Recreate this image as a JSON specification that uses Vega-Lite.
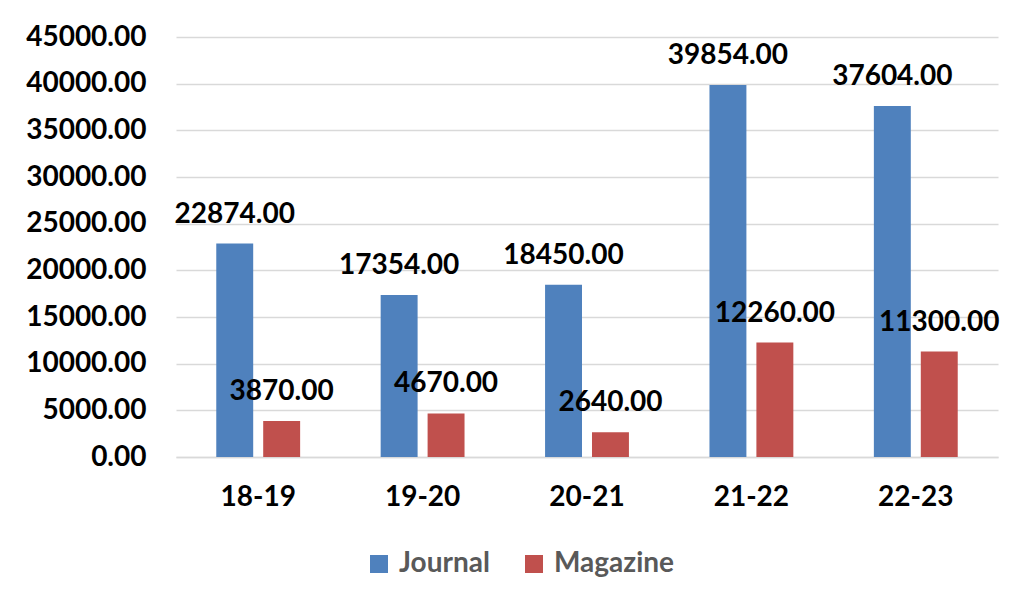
{
  "$schema": "https://vega.github.io/schema/vega-lite/v6.json",
  "autosize": "none",
  "width": 822,
  "height": 420,
  "padding": {"left": 176, "top": 37, "right": 17, "bottom": 143},
  "background": "white",
  "config": {
    "view": {"stroke": null},
    "font": "Lato",
    "axis": {"labelFont": "Lato", "labelFontWeight": "bold", "labelFontSize": 28, "labelColor": "#000000"}
  },
  "data": {
    "values": [
      {"year": "18-19", "type": "Journal", "value": 22874},
      {"year": "18-19", "type": "Magazine", "value": 3870},
      {"year": "19-20", "type": "Journal", "value": 17354},
      {"year": "19-20", "type": "Magazine", "value": 4670},
      {"year": "20-21", "type": "Journal", "value": 18450},
      {"year": "20-21", "type": "Magazine", "value": 2640},
      {"year": "21-22", "type": "Journal", "value": 39854},
      {"year": "21-22", "type": "Magazine", "value": 12260},
      {"year": "22-23", "type": "Journal", "value": 37604},
      {"year": "22-23", "type": "Magazine", "value": 11300}
    ]
  },
  "encoding": {
    "x": {
      "field": "year", "type": "nominal", "sort": null,
      "scale": {"paddingInner": 0, "paddingOuter": 0},
      "axis": {"title": null, "labelAngle": 0, "ticks": false, "domainColor": "#d9d9d9", "domainWidth": 1.5, "labelPadding": 26}
    },
    "xOffset": {
      "field": "type", "type": "nominal", "sort": ["Journal", "Magazine"],
      "scale": {"paddingInner": 0.213, "paddingOuter": 0.858}
    },
    "y": {
      "field": "value", "type": "quantitative",
      "scale": {"domain": [0, 45000], "nice": false},
      "axis": {"title": null, "values": [0, 5000, 10000, 15000, 20000, 25000, 30000, 35000, 40000, 45000], "format": ".2f", "domain": false, "ticks": false, "gridColor": "#d9d9d9", "gridWidth": 1.5, "labelPadding": 30}
    }
  },
  "layer": [
    {
      "mark": {"type": "bar"},
      "encoding": {
        "color": {
          "field": "type", "type": "nominal", "sort": ["Journal", "Magazine"],
          "scale": {"domain": ["Journal", "Magazine"], "range": ["#4F81BD", "#C0504D"]},
          "legend": {
            "title": null, "orient": "none", "direction": "horizontal",
            "legendX": 189, "legendY": 513,
            "symbolType": "square", "symbolSize": 324, "symbolStrokeWidth": 0,
            "labelFont": "Lato", "labelFontWeight": "bold", "labelFontSize": 28, "labelColor": "#595959",
            "columnPadding": 30, "labelOffset": 6
          }
        }
      }
    },
    {
      "mark": {"type": "text", "baseline": "middle", "dy": -29, "font": "Lato", "fontWeight": "bold", "fontSize": 28, "color": "#000000"},
      "encoding": {
        "text": {"field": "value", "type": "quantitative", "format": ".2f"}
      }
    }
  ]
}
